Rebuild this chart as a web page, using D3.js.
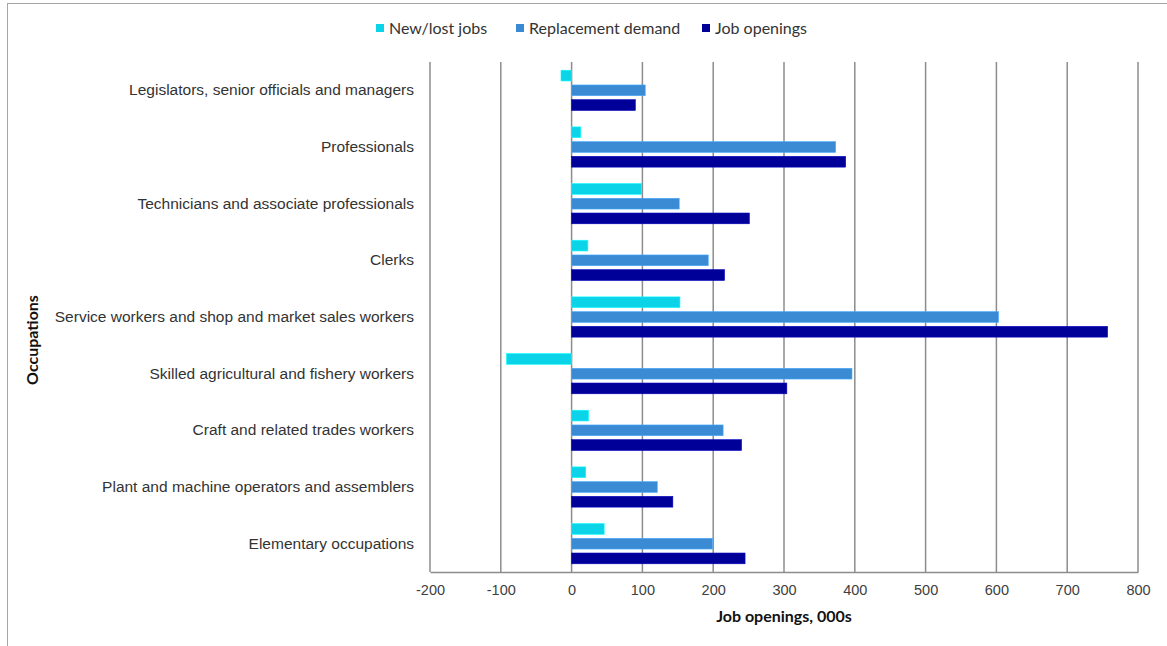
<!DOCTYPE html>
<html>
<head>
<meta charset="utf-8">
<script src="https://cdn.jsdelivr.net/npm/d3@7"></script>
<style>
  body { margin: 0; background: #fff; }
  svg { display: block; font-family: Lato, "Open Sans", sans-serif; }
</style>
</head>
<body>
<svg id="chart" width="1167" height="646"></svg>
<script>
const occupations = [
  'Legislators, senior officials and managers',
  'Professionals',
  'Technicians and associate professionals',
  'Clerks',
  'Service workers and shop and market sales workers',
  'Skilled agricultural and fishery workers',
  'Craft and related trades workers',
  'Plant and machine operators and assemblers',
  'Elementary occupations'
];
const newLost = [-15, 13, 99, 23, 153, -92, 24, 20, 46];
const replacement = [104, 373, 152, 193, 603, 396, 214, 121, 199];
const jobOpenings = [90, 387, 251, 216, 757, 304, 240, 143, 245];
const seriesNames = ['New/lost jobs', 'Replacement demand', 'Job openings'];
const xTicks = [-200, -100, 0, 100, 200, 300, 400, 500, 600, 700, 800];

function renderChart() {
  const svg = d3.select('#chart');
  const margin = { top: 62, left: 430, right: 29, bottom: 74 };
  const width = 1167 - margin.left - margin.right;
  const height = 646 - margin.top - margin.bottom;
  const colors = ['#0bd3e8', '#3a8ad4', '#000099'];
  const seriesData = [newLost, replacement, jobOpenings];

  // frame
  svg.append('rect')
    .attr('x', 7.5).attr('y', 3.5)
    .attr('width', 1200).attr('height', 700)
    .attr('fill', 'none')
    .attr('stroke', '#a6a6a6');

  const g = svg.append('g')
    .attr('transform', `translate(${margin.left},${margin.top})`);

  const xScale = d3.scaleLinear().domain([-200, 800]).range([0, width]);
  const yScale = d3.scaleBand().domain(occupations).range([0, height]).paddingInner(0.29).paddingOuter(0.145);
  const ySub = d3.scaleBand().domain(d3.range(3)).range([0, yScale.bandwidth()]).paddingInner(0.27);

  // gridlines
  g.append('g')
    .selectAll('line')
    .data(xTicks)
    .enter()
    .append('line')
    .attr('x1', d => xScale(d)).attr('x2', d => xScale(d))
    .attr('y1', 0).attr('y2', height)
    .attr('stroke', '#8c8c8c')
    .attr('stroke-width', 1.5);

  // bars
  seriesData.forEach((vals, s) => {
    g.append('g')
      .selectAll('rect')
      .data(vals)
      .enter()
      .append('rect')
      .attr('x', d => xScale(Math.min(0, d)))
      .attr('y', (d, i) => yScale(occupations[i]) + ySub(s))
      .attr('width', d => Math.abs(xScale(d) - xScale(0)))
      .attr('height', ySub.bandwidth())
      .attr('fill', colors[s])
      .attr('stroke', d3.color(colors[s]).brighter(0.6))
      .attr('stroke-width', 0.6);
  });

  // x axis
  const xAxis = g.append('g')
    .attr('transform', `translate(0,${height})`)
    .call(d3.axisBottom(xScale).tickValues(xTicks).tickFormat(d => String(d)).tickSize(0).tickPadding(13));
  xAxis.select('.domain').attr('stroke', '#8c8c8c').attr('stroke-width', 1.5);
  xAxis.selectAll('text').style('font-size', '14.5px').style('fill', '#404040');

  // y axis labels
  const yAxis = g.append('g')
    .call(d3.axisLeft(yScale).tickSize(0).tickPadding(16));
  yAxis.select('.domain').remove();
  yAxis.selectAll('text').style('font-size', '15.5px').style('fill', '#333');

  // axis titles
  svg.append('text')
    .attr('x', margin.left + width / 2)
    .attr('y', 622)
    .style('text-anchor', 'middle')
    .style('font-size', '16px')
    .style('font-weight', 'bold')
    .style('fill', '#111')
    .text('Job openings, 000s');

  svg.append('text')
    .attr('transform', 'rotate(-90)')
    .attr('x', -340)
    .attr('y', 38)
    .style('text-anchor', 'middle')
    .style('font-size', '16px')
    .style('font-weight', 'bold')
    .style('fill', '#111')
    .text('Occupations');

  // legend
  const legendX = [376, 516, 702];
  const legend = svg.append('g');
  seriesNames.forEach((name, i) => {
    legend.append('rect')
      .attr('x', legendX[i]).attr('y', 24)
      .attr('width', 8).attr('height', 8)
      .attr('fill', colors[i]);
    legend.append('text')
      .attr('x', legendX[i] + 13)
      .attr('y', 28)
      .attr('dy', '0.35em')
      .style('font-size', '16px')
      .style('fill', '#333')
      .text(name);
  });
}

renderChart();
</script>
</body>
</html>
